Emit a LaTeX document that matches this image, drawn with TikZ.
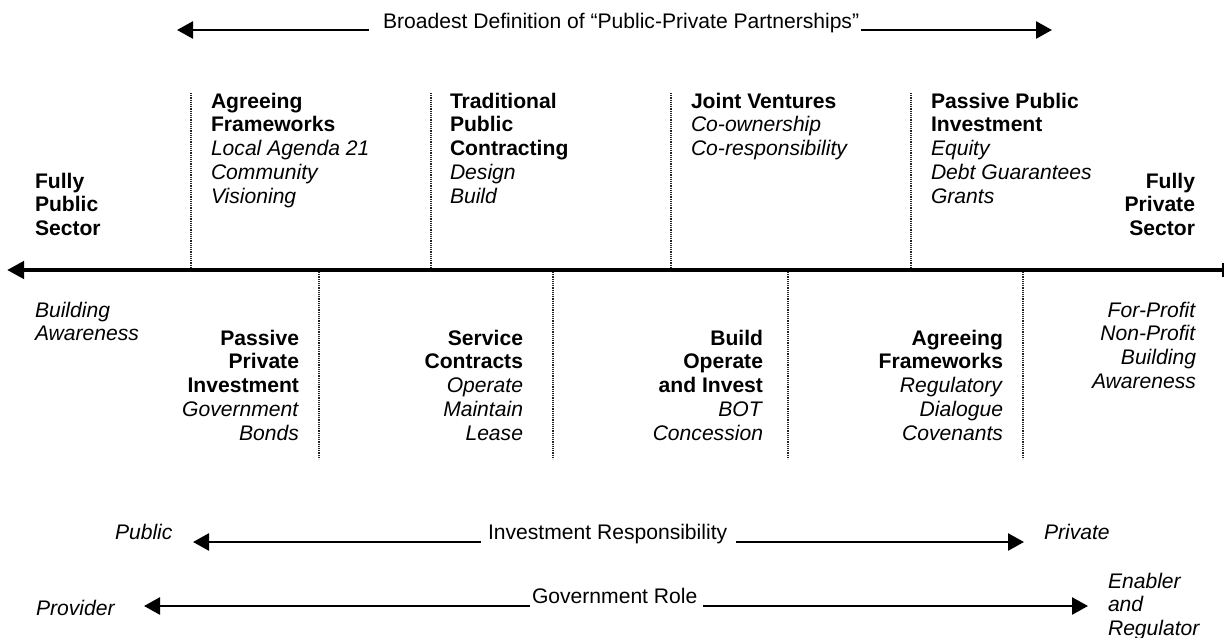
\documentclass[tikz,border=0pt]{standalone}
\usepackage{fontspec}
\setmainfont{Liberation Sans}
\usetikzlibrary{arrows.meta}
\newcommand\blkL[1]{\begin{tabular}[t]{@{}l@{}}#1\end{tabular}}
\newcommand\blkR[1]{\begin{tabular}[t]{@{}r@{}}#1\end{tabular}}
\begin{document}
\begin{tikzpicture}[x=0.5pt,y=-0.5pt,
  every node/.style={inner sep=0pt, outer sep=0pt, font=\fontsize{10.55}{11.9}\selectfont},
  conn/.style={line width=1.3pt, -{Triangle[length=8pt,width=8.5pt]}},
  axisline/.style={line width=2.3pt, {Bar[width=7pt,line width=1pt]}-{Triangle[length=8.5pt,width=8.5pt]}},
  sepline/.style={line width=0.6pt, black!85, dash pattern=on 0.55pt off 0.55pt},
  lblk/.style={anchor=base west},
  rblk/.style={anchor=base east}
]
\useasboundingbox (0,0) rectangle (1225,637);

% top definition arrow
\node[anchor=base west] (bd) at (383,28) {Broadest Definition of “Public-Private Partnerships”};
\coordinate (bdL) at (177,30);
\coordinate (bdR) at (1052,30);
\draw[conn] ([xshift=-7pt]bd.west |- bdL) -- (bdL);
\draw[conn] ([xshift=1pt]bd.east |- bdR) -- (bdR);

% main axis
\coordinate (axL) at (7,270);
\coordinate (axR) at (1224,270);
\draw[axisline] (axR) -- (axL);

% dotted separators above axis
\foreach \x in {191,431,671,911} {\draw[sepline] (\x,93) -- (\x,268);}
% dotted separators below axis
\foreach \x in {319,553,788,1023} {\draw[sepline] (\x,272) -- (\x,459);}

% upper blocks
\node[lblk] (fpub) at (35,188) {\blkL{\textbf{Fully}\\\textbf{Public}\\\textbf{Sector}}};
\node[lblk] (agr1) at (211,108) {\blkL{\textbf{Agreeing}\\\textbf{Frameworks}\\\textit{Local Agenda 21}\\\textit{Community}\\\textit{Visioning}}};
\node[lblk] (trad) at (450,108) {\blkL{\textbf{Traditional}\\\textbf{Public}\\\textbf{Contracting}\\\textit{Design}\\\textit{Build}}};
\node[lblk] (joint) at (691,108) {\blkL{\textbf{Joint Ventures}\\\textit{Co-ownership}\\\textit{Co-responsibility}}};
\node[lblk] (ppub) at (931,108) {\blkL{\textbf{Passive Public}\\\textbf{Investment}\\\textit{Equity}\\\textit{Debt Guarantees}\\\textit{Grants}}};
\node[rblk] (fpriv) at (1195,188) {\blkR{\textbf{Fully}\\\textbf{Private}\\\textbf{Sector}}};

% lower blocks
\node[lblk] (bawl) at (35,317) {\blkL{\textit{Building}\\\textit{Awareness}}};
\node[rblk] (ppriv) at (299,345) {\blkR{\textbf{Passive}\\\textbf{Private}\\\textbf{Investment}\\\textit{Government}\\\textit{Bonds}}};
\node[rblk] (serv) at (523,345) {\blkR{\textbf{Service}\\\textbf{Contracts}\\\textit{Operate}\\\textit{Maintain}\\\textit{Lease}}};
\node[rblk] (boi) at (763,345) {\blkR{\textbf{Build}\\\textbf{Operate}\\\textbf{and Invest}\\\textit{BOT}\\\textit{Concession}}};
\node[rblk] (agr2) at (1003,345) {\blkR{\textbf{Agreeing}\\\textbf{Frameworks}\\\textit{Regulatory}\\\textit{Dialogue}\\\textit{Covenants}}};
\node[rblk] (profit) at (1196,317) {\blkR{\textit{For-Profit}\\\textit{Non-Profit}\\\textit{Building}\\\textit{Awareness}}};

% investment responsibility row
\node[anchor=base west] (pubI) at (115,539.5) {\textit{Public}};
\node[anchor=base west] (invR) at (488,539.5) {Investment Responsibility};
\node[anchor=base west] (privI) at (1044,539.5) {\textit{Private}};
\coordinate (irL) at (193,542);
\coordinate (irR) at (1024,542);
\draw[conn] ([xshift=-3.5pt]invR.west |- irL) -- (irL);
\draw[conn] ([xshift=4.5pt]invR.east |- irR) -- (irR);

% government role row
\node[anchor=base west] (prov) at (36,615) {\textit{Provider}};
\node[anchor=base west] (govR) at (532,603.5) {Government Role};
\node[lblk] (enab) at (1108,588) {\blkL{\textit{Enabler}\\\textit{and}\\\textit{Regulator}}};
\coordinate (grL) at (144,606);
\coordinate (grR) at (1088,606);
\draw[conn] ([xshift=-1pt]govR.west |- grL) -- (grL);
\draw[conn] ([xshift=3pt]govR.east |- grR) -- (grR);
\end{tikzpicture}
\end{document}
